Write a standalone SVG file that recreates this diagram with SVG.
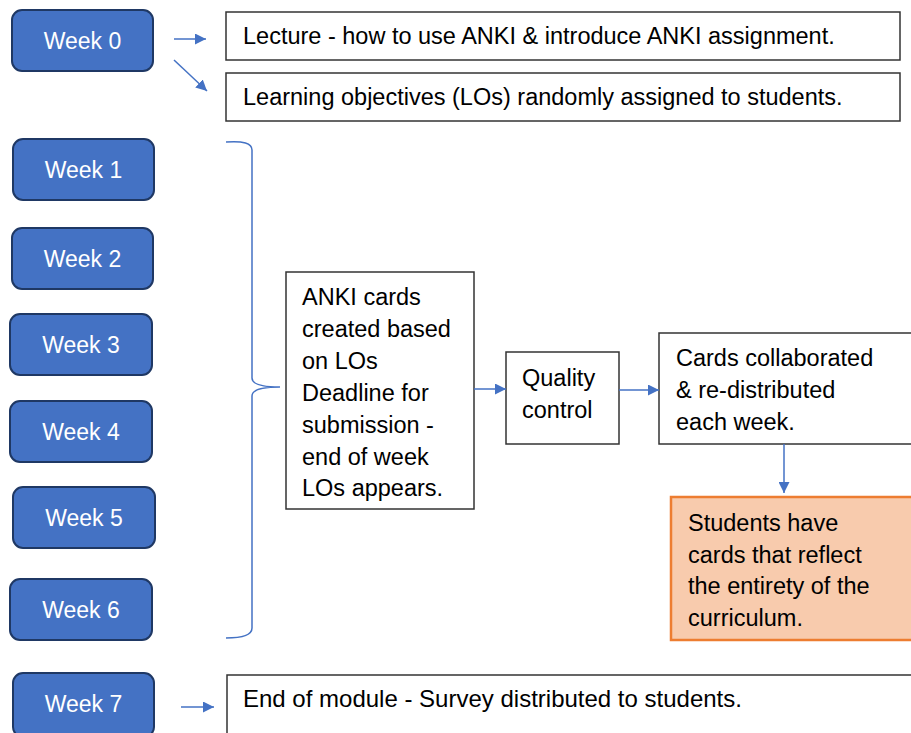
<svg xmlns="http://www.w3.org/2000/svg" width="911" height="733" viewBox="0 0 911 733">
<style>
.week rect{fill:#4472C4;stroke:#1F3864;stroke-width:2}
.week text{fill:#fff;font-family:"Liberation Sans",Arial,sans-serif;font-size:23px;text-anchor:middle}
.box rect{fill:#fff;stroke:#333;stroke-width:1.5}
.box text,.orange text{fill:#000;font-family:"Liberation Sans",Arial,sans-serif;font-size:23.5px}
.orange rect{fill:#F8CBAD;stroke:#ED7D31;stroke-width:2.5}
.conn line,.conn path{stroke:#4472C4;stroke-width:1.5;fill:none}
</style>
<defs>
<marker id="ah" viewBox="0 0 10 10" refX="10" refY="5" markerWidth="11" markerHeight="11" orient="auto" markerUnits="userSpaceOnUse">
<path d="M0,0 L10,5 L0,10 z" fill="#4472C4"/>
</marker>
</defs>
<g id="week0" class="week"><rect x="12" y="10" width="141" height="61" rx="10"/><text x="82.5" y="49">Week 0</text></g>
<g id="week1" class="week"><rect x="13" y="139" width="141" height="61" rx="10"/><text x="83.5" y="178">Week 1</text></g>
<g id="week2" class="week"><rect x="12" y="228" width="141" height="61" rx="10"/><text x="82.5" y="267">Week 2</text></g>
<g id="week3" class="week"><rect x="10" y="314" width="142" height="61" rx="10"/><text x="81" y="353">Week 3</text></g>
<g id="week4" class="week"><rect x="10" y="401" width="142" height="61" rx="10"/><text x="81" y="440">Week 4</text></g>
<g id="week5" class="week"><rect x="13" y="487" width="142" height="61" rx="10"/><text x="84" y="526">Week 5</text></g>
<g id="week6" class="week"><rect x="10" y="579" width="142" height="61" rx="10"/><text x="81" y="618">Week 6</text></g>
<g id="week7" class="week"><rect x="13" y="673" width="141" height="64" rx="10"/><text x="83.5" y="712">Week 7</text></g>

<g id="lecture" class="box"><rect x="226" y="12" width="674" height="48"/><text x="243" y="44">Lecture - how to use ANKI &amp; introduce ANKI assignment.</text></g>
<g id="learning" class="box"><rect x="226" y="73" width="674" height="48"/><text x="243" y="105">Learning objectives (LOs) randomly assigned to students.</text></g>
<g id="anki" class="box"><rect x="286" y="272" width="188" height="237"/>
<text x="302" y="305">ANKI cards</text>
<text x="302" y="337">created based</text>
<text x="302" y="369">on LOs</text>
<text x="302" y="401">Deadline for</text>
<text x="302" y="433">submission -</text>
<text x="302" y="465">end of week</text>
<text x="302" y="496">LOs appears.</text>
</g>
<g id="quality" class="box"><rect x="506" y="352" width="113" height="92"/>
<text x="522" y="386">Quality</text>
<text x="522" y="418">control</text>
</g>
<g id="cards" class="box"><rect x="659" y="333" width="262" height="111"/>
<text x="676" y="366">Cards collaborated</text>
<text x="676" y="398">&amp; re-distributed</text>
<text x="676" y="430">each week.</text>
</g>
<g id="students" class="orange"><rect x="671" y="497" width="250" height="143"/>
<text x="688" y="531">Students have</text>
<text x="688" y="563">cards that reflect</text>
<text x="688" y="594">the entirety of the</text>
<text x="688" y="626">curriculum.</text>
</g>
<g id="endmodule" class="box"><rect x="227" y="675" width="694" height="70"/><text x="243" y="707" style="font-size:24px">End of module - Survey distributed to students.</text></g>

<g id="connectors" class="conn">
<line x1="174" y1="39" x2="206" y2="39" marker-end="url(#ah)"/>
<line x1="174" y1="60" x2="207" y2="91" marker-end="url(#ah)"/>
<line x1="474" y1="389" x2="506" y2="389" marker-end="url(#ah)"/>
<line x1="619" y1="390" x2="659" y2="390" marker-end="url(#ah)"/>
<line x1="784" y1="444" x2="784" y2="493" marker-end="url(#ah)"/>
<line x1="181" y1="707" x2="214" y2="707" marker-end="url(#ah)"/>
<path d="M226,142 Q252,140 252,150 L252,378 Q252,387 280,387 Q252,387 252,396 L252,628 Q252,638 226,638"/>
</g>
</svg>
